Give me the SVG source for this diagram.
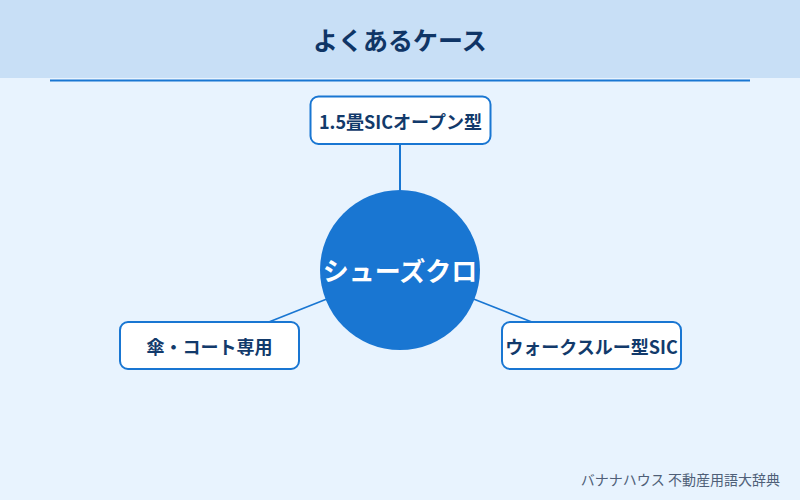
<svg xmlns="http://www.w3.org/2000/svg" width="800" height="500" viewBox="0 0 800 500">
<style>
.node rect{fill:#ffffff;stroke:#1976d2;stroke-width:2}
.node text{font-family:"Noto Sans CJK JP","Noto Sans",sans-serif;font-weight:700;font-size:18px;fill:#123a6b;text-anchor:middle;dominant-baseline:central}
.conn line{stroke:#1976d2;stroke-width:1.5}
</style>
<rect x="0" y="0" width="800" height="500" fill="#e8f3fe"/>
<rect x="0" y="0" width="800" height="78" fill="#c8dff6"/>
<line x1="50" y1="80.5" x2="750" y2="80.5" stroke="#1976d2" stroke-width="2"/>
<text x="400" y="39" font-family="'Noto Sans CJK JP','Noto Sans',sans-serif" font-weight="700" font-size="25" fill="#0f3566" text-anchor="middle" dominant-baseline="central">よくあるケース</text>
<g class="conn" id="connectors">
<line x1="400" y1="144" x2="400" y2="270" style="stroke-width:2"/>
<line x1="209.5" y1="345.5" x2="400" y2="270"/>
<line x1="591.5" y1="345.5" x2="400" y2="270"/>
</g>
<g id="center">
<circle cx="400" cy="270" r="80" fill="#1976d2"/>
<text x="400" y="269" font-family="'Noto Sans CJK JP','Noto Sans',sans-serif" font-weight="700" font-size="26" fill="#ffffff" text-anchor="middle" dominant-baseline="central">シューズクロ</text>
</g>
<g class="node" id="n-top">
<rect x="310.5" y="96.5" width="180" height="47.5" rx="8"/>
<text x="400.5" y="120.5">1.5畳SICオープン型</text>
</g>
<g class="node" id="n-left">
<rect x="120" y="322" width="179" height="47" rx="8"/>
<text x="209.5" y="345.5">傘・コート専用</text>
</g>
<g class="node" id="n-right">
<rect x="502" y="322" width="179" height="47" rx="8"/>
<text x="591.5" y="345.5">ウォークスルー型SIC</text>
</g>
<text x="780" y="479" font-family="'Noto Sans CJK JP','Noto Sans',sans-serif" font-size="14" fill="#4f5f78" text-anchor="end" dominant-baseline="central">バナナハウス 不動産用語大辞典</text>
</svg>
